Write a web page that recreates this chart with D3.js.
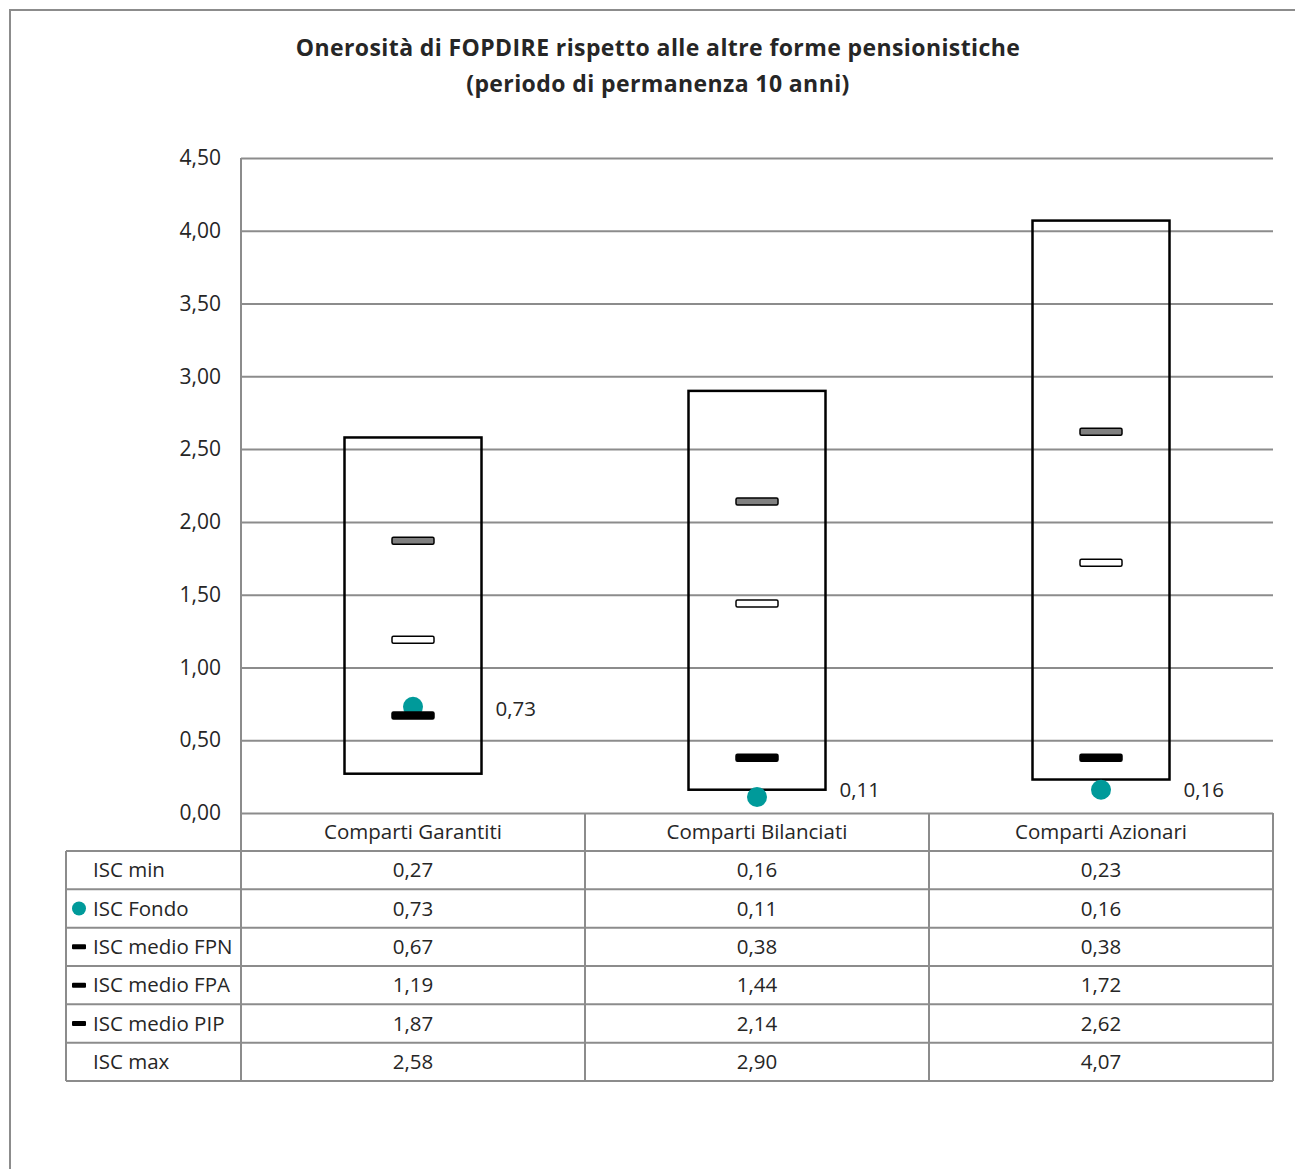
<!DOCTYPE html>
<html>
<head>
<meta charset="utf-8">
<script src="https://cdn.jsdelivr.net/npm/d3@7"></script>
<style>
  body { margin: 0; background: #fff; }
  text { font-family: "Open Sans", "Noto Sans", sans-serif; fill: #262626; }
</style>
</head>
<body>
<div id="chart"></div>
<script>
// data
var categories = ["Comparti Garantiti", "Comparti Bilanciati", "Comparti Azionari"];
var iscMin = [0.27, 0.16, 0.23];
var iscFondo = [0.73, 0.11, 0.16];
var iscFPN = [0.67, 0.38, 0.38];
var iscFPA = [1.19, 1.44, 1.72];
var iscPIP = [1.87, 2.14, 2.62];
var iscMax = [2.58, 2.90, 4.07];
var rowNames = ["ISC min", "ISC Fondo", "ISC medio FPN", "ISC medio FPA", "ISC medio PIP", "ISC max"];
var yTicks = [0, 0.5, 1, 1.5, 2, 2.5, 3, 3.5, 4, 4.5];
var titleLines = ["Onerosità di FOPDIRE rispetto alle altre forme pensionistiche",
                  "(periodo di permanenza 10 anni)"];

var svgWidth = 1295;
var svgHeight = 1169;
var gridColor = "#8c8c8c";
var teal = "#009a9a";
var fontSize = "20.5px";

var it = d3.formatLocale({decimal: ",", thousands: ".", grouping: [3], currency: ["€", ""]});
var fmt = it.format(".2f");

var svg = d3.select("#chart")
  .append("svg")
  .attr("width", svgWidth)
  .attr("height", svgHeight);

// outer frame (runs off the right and bottom edge)
svg.append("rect")
  .attr("x", 10).attr("y", 10)
  .attr("width", 1400).attr("height", 1300)
  .attr("fill", "none")
  .attr("stroke", gridColor)
  .attr("stroke-width", 2);

// title
svg.append("g").selectAll("text")
  .data(titleLines)
  .enter()
  .append("text")
  .attr("x", 658)
  .attr("y", (d, i) => 56 + i * 36)
  .attr("text-anchor", "middle")
  .attr("font-size", "23px")
  .style("font-weight", "bold")
  .style("letter-spacing", "0.4px")
  .text(d => d);

// scales
var xScale = d3.scaleBand()
  .domain(categories)
  .range([241, 1273]);

var yScale = d3.scaleLinear()
  .domain([0, 4.5])
  .range([813, 158]);

var rowScale = d3.scaleBand()
  .domain(rowNames)
  .range([851, 1081]);

var cx = d => xScale(d) + xScale.bandwidth() / 2;

// gridlines + tick labels via axis
var yAxis = d3.axisLeft(yScale)
  .tickValues(yTicks)
  .tickSize(-(1273 - 241))
  .tickPadding(20)
  .tickFormat(fmt);

var axisG = svg.append("g")
  .attr("transform", "translate(241,0)")
  .call(yAxis);
axisG.select(".domain").remove();
axisG.selectAll(".tick line")
  .attr("stroke", gridColor)
  .attr("stroke-width", 2);
axisG.selectAll(".tick text")
  .attr("font-size", "21px")
  .attr("fill", "#262626")
  .style("font-family", "'Open Sans', sans-serif");

// table lines
var table = svg.append("g")
  .attr("stroke", gridColor)
  .attr("stroke-width", 2);

// vertical axis line down into the table
table.append("line")
  .attr("x1", 241).attr("x2", 241)
  .attr("y1", yScale(4.5)).attr("y2", 1081);

// column separators
table.selectAll(".colsep")
  .data(categories)
  .enter()
  .append("line")
  .attr("x1", d => xScale(d) + xScale.bandwidth())
  .attr("x2", d => xScale(d) + xScale.bandwidth())
  .attr("y1", yScale(0)).attr("y2", 1081);

table.append("line")
  .attr("x1", 66).attr("x2", 66)
  .attr("y1", 851).attr("y2", 1081);

// row separators
table.selectAll(".rowsep")
  .data(rowNames.concat(["end"]))
  .enter()
  .append("line")
  .attr("x1", 66).attr("x2", 1273)
  .attr("y1", (d, i) => i < rowNames.length ? rowScale(d) : 1081)
  .attr("y2", (d, i) => i < rowNames.length ? rowScale(d) : 1081);

// header row (category names)
svg.append("g").selectAll("text")
  .data(categories)
  .enter()
  .append("text")
  .attr("x", cx)
  .attr("y", (yScale(0) + 851) / 2)
  .attr("dy", "0.35em")
  .attr("text-anchor", "middle")
  .attr("font-size", fontSize)
  .text(d => d);

// row labels
svg.append("g").selectAll("text")
  .data(rowNames)
  .enter()
  .append("text")
  .attr("x", 93)
  .attr("y", d => rowScale(d) + rowScale.bandwidth() / 2)
  .attr("dy", "0.35em")
  .attr("font-size", fontSize)
  .text(d => d);

// legend keys inside the table
var rowMid = name => rowScale(name) + rowScale.bandwidth() / 2;
svg.append("circle")
  .attr("cx", 79).attr("cy", rowMid("ISC Fondo"))
  .attr("r", 7)
  .attr("fill", teal);
svg.append("g").selectAll("rect")
  .data(["ISC medio FPN", "ISC medio FPA", "ISC medio PIP"])
  .enter()
  .append("rect")
  .attr("x", 72).attr("y", d => rowMid(d) - 2.5)
  .attr("width", 14).attr("height", 5)
  .attr("rx", 1)
  .attr("fill", "#000");

// table values
var series = [iscMin, iscFondo, iscFPN, iscFPA, iscPIP, iscMax];
series.forEach(function(vals, r) {
  svg.append("g").selectAll("text")
    .data(vals)
    .enter()
    .append("text")
    .attr("x", (d, i) => cx(categories[i]))
    .attr("y", rowMid(rowNames[r]))
    .attr("dy", "0.35em")
    .attr("text-anchor", "middle")
    .attr("font-size", fontSize)
    .text(d => fmt(d));
});

// min-max boxes
var boxW = 137;
svg.append("g").selectAll("rect")
  .data(categories)
  .enter()
  .append("rect")
  .attr("x", d => cx(d) - boxW / 2)
  .attr("y", (d, i) => yScale(iscMax[i]))
  .attr("width", boxW)
  .attr("height", (d, i) => yScale(iscMin[i]) - yScale(iscMax[i]))
  .attr("fill", "none")
  .attr("stroke", "#000")
  .attr("stroke-width", 2.5);

// ISC Fondo points (drawn under the dashes)
svg.append("g").selectAll("circle")
  .data(iscFondo)
  .enter()
  .append("circle")
  .attr("cx", (d, i) => cx(categories[i]))
  .attr("cy", d => yScale(d))
  .attr("r", 10)
  .attr("fill", teal);

// average markers
var markW = 42, markH = 7;
function dashes(vals, fill, stroke) {
  svg.append("g").selectAll("rect")
    .data(vals)
    .enter()
    .append("rect")
    .attr("x", (d, i) => cx(categories[i]) - markW / 2)
    .attr("y", d => yScale(d) - markH / 2)
    .attr("width", markW)
    .attr("height", markH)
    .attr("rx", 1.5)
    .attr("fill", fill)
    .attr("stroke", stroke)
    .attr("stroke-width", 1.5);
}
dashes(iscPIP, "#808080", "#000");
dashes(iscFPA, "#fff", "#000");
dashes(iscFPN, "#000", "#000");

// Fondo value labels, right of each box
svg.append("g").selectAll("text")
  .data(iscFondo)
  .enter()
  .append("text")
  .attr("x", (d, i) => cx(categories[i]) + boxW / 2 + 14)
  .attr("y", d => Math.min(yScale(d) + 2, yScale(0) - 23))
  .attr("dy", "0.35em")
  .attr("font-size", fontSize)
  .text(d => fmt(d));
</script>
</body>
</html>
